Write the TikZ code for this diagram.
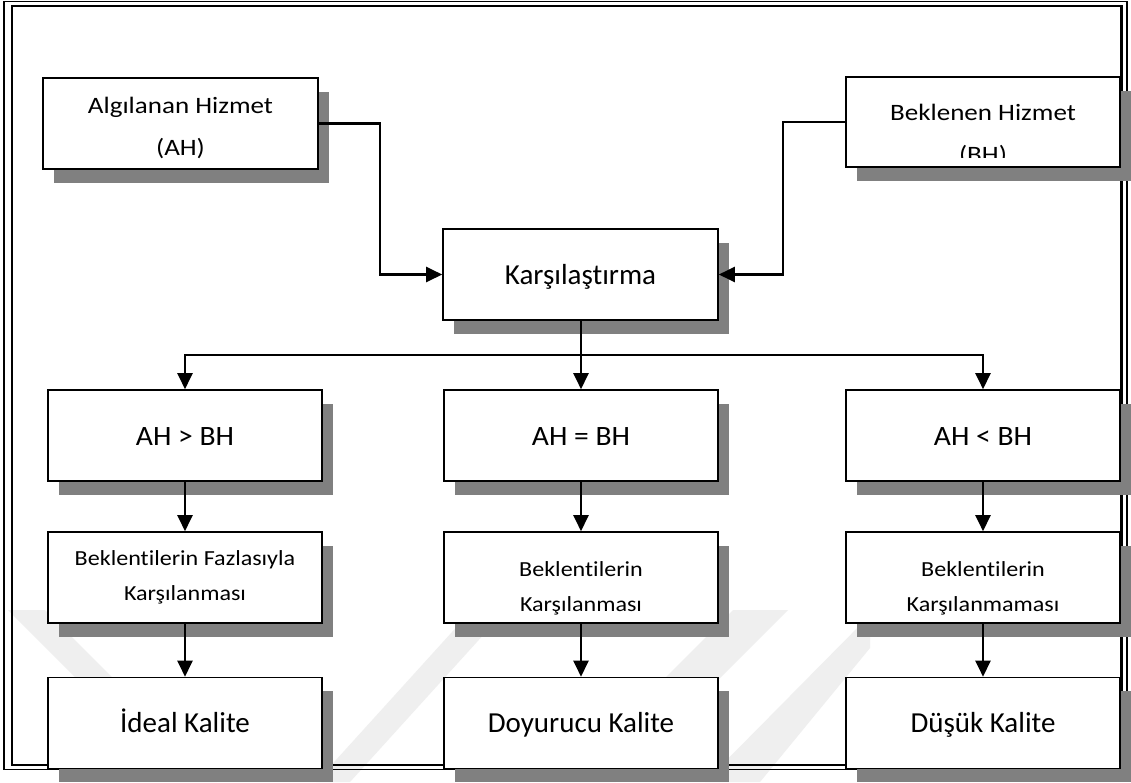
\documentclass[tikz,border=0pt]{standalone}
\usepackage{fontspec}
\setmainfont{Carlito}[Ligatures=NoCommon]
\newfontfamily\wideA{Carlito}[FakeStretch=1.15,Ligatures=NoCommon]
\newfontfamily\wideC{Carlito}[FakeStretch=1.055,Ligatures=NoCommon]
\newfontfamily\wideD{Carlito}[FakeStretch=1.12,Ligatures=NoCommon]
\usetikzlibrary{arrows.meta,shadows}
\definecolor{shade}{RGB}{128,128,128}
\definecolor{wmark}{RGB}{239,239,239}
\tikzset{
  box/.style={draw=black, line width=1.6pt, fill=white, inner sep=0pt,
    minimum width=274pt, minimum height=91pt,
    drop shadow={shadow xshift=10.5pt, shadow yshift=-13.5pt, fill=shade, opacity=1}},
  conn/.style={line width=2.2pt, -{Triangle[length=16pt,width=15pt]}},
  wire/.style={line width=2.2pt},
  lbl/.style={anchor=base, inner sep=0pt},
  fA/.style={font=\wideA\fontsize{23.5}{27}\selectfont},
  fB/.style={font=\fontsize{29}{34}\selectfont},
  fC/.style={font=\wideC\fontsize{28}{33}\selectfont},
  fD/.style={font=\wideD\fontsize{21.5}{26}\selectfont},
}
\begin{document}
\begin{tikzpicture}[x=1pt,y=-1pt]
\useasboundingbox (0,0) rectangle (1131,782);
\fill[white] (0,0) rectangle (1131,782);

% faint background bands
\fill[wmark] (8,610) -- (45,610) -- (217,782) -- (180,782) -- cycle;
\fill[wmark] (316,782) -- (350,782) -- (515,600) -- (481,600) -- cycle;
\fill[wmark] (733,610) -- (788,610) -- (616,782) -- (561,782) -- cycle;
\fill[wmark] (705,782) -- (760,782) -- (870,648) -- (870,615) -- cycle;

% double frame
\draw[line width=1.5pt] (4,1.5) rectangle (1127,769.5);
\draw[line width=2.4pt] (12,5.8) rectangle (1121.5,765);

% top row
\node[box, minimum width=275pt] (ah) at (180.5,123.5) {};
\node[lbl, fA] (ahl1) at (180.5,113) {Algılanan Hizmet};
\node[lbl, fA] (ahl2) at (180.5,155) {(AH)};

\node[box, minimum height=90pt] (bh) at (983,122) {};
\begin{scope}
  \clip (846,78) rectangle (1120,157.5);
  \node[lbl, fA] (bhl1) at (983,120) {Beklenen Hizmet};
  \node[lbl, fA] (bhl2) at (983,162) {(BH)};
\end{scope}

\node[box, minimum width=275pt] (k) at (580.5,274.5) {};
\node[lbl, fB] (kl) at (580.5,284) {Karşılaştırma};

% comparison row
\node[box] (l2) at (185,435.5) {};
\node[lbl, fC] (l2t) at (185,445) {AH > BH};
\node[box] (m2) at (581,435.5) {};
\node[lbl, fC] (m2t) at (581,445) {AH = BH};
\node[box] (r2) at (983,435.5) {};
\node[lbl, fC] (r2t) at (983,445) {AH < BH};

% expectation row
\node[box] (l3) at (185,577.5) {};
\node[lbl, fD] (l3a) at (185,565) {Beklentilerin Fazlasıyla};
\node[lbl, fD] (l3b) at (185,600) {Karşılanması};
\node[box] (m3) at (581,577.5) {};
\node[lbl, fD] (m3a) at (581,576) {Beklentilerin};
\node[lbl, fD] (m3b) at (581,611.5) {Karşılanması};
\node[box] (r3) at (983,577.5) {};
\node[lbl, fD] (r3a) at (983,576) {Beklentilerin};
\node[lbl, fD] (r3b) at (983,611) {Karşılanmaması};

% quality row
\node[box] (l4) at (185,723) {};
\node[lbl, fB] (l4t) at (185,732.5) {İdeal Kalite};
\node[box] (m4) at (581,723) {};
\node[lbl, fB] (m4t) at (581,732.5) {Doyurucu Kalite};
\node[box] (r4) at (983,723) {};
\node[lbl, fB] (r4t) at (983,732.5) {Düşük Kalite};

% connectors
\coordinate (jl) at (380,123.5);
\coordinate (jr) at (783,122);
\coordinate (split) at (581,355);
\draw[conn] (ah.east) -- (jl) |- (k.west);
\draw[conn] (bh.west) -- (jr) |- (k.east);
\draw[wire] (k.south -| split) -- (split);
\draw[conn] (split) -- (m2.north);
\draw[conn] (split) -| (l2.north);
\draw[conn] (split) -| (r2.north);
\draw[conn] (l2.south) -- (l3.north);
\draw[conn] (m2.south) -- (m3.north);
\draw[conn] (r2.south) -- (r3.north);
\draw[conn] (l3.south) -- (l4.north);
\draw[conn] (m3.south) -- (m4.north);
\draw[conn] (r3.south) -- (r4.north);
\end{tikzpicture}
\end{document}
